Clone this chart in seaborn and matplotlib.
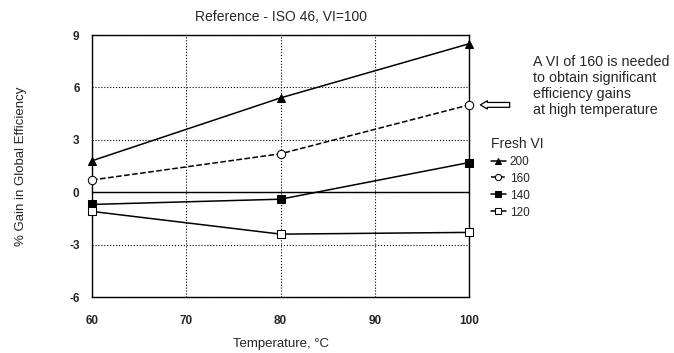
import pandas as pd
import matplotlib
matplotlib.use('Agg')
import matplotlib.pyplot as plt
import seaborn as sns
from matplotlib.ticker import MultipleLocator

# data
temps = [60, 80, 100]
vi_labels = ['200', '160', '140', '120']
gain_200 = [1.8, 5.4, 8.5]
gain_160 = [0.7, 2.2, 5.0]
gain_140 = [-0.7, -0.4, 1.7]
gain_120 = [-1.1, -2.4, -2.3]

rows = []
for vi, vals in zip(vi_labels, [gain_200, gain_160, gain_140, gain_120]):
    for t, g in zip(temps, vals):
        rows.append({'Temperature': t, 'Gain': g, 'Fresh VI': vi})
df = pd.DataFrame(rows)

sns.set_style('white')
plt.rcParams['font.family'] = ['Liberation Sans', 'DejaVu Sans']
plt.rcParams['axes.unicode_minus'] = False

fig = plt.figure(figsize=(6.74, 3.53), dpi=100)
ax = fig.add_axes([0.1365, 0.1586, 0.5595, 0.7422])

styles = {
    '200': dict(marker='^', mfc='black', ls='-'),
    '160': dict(marker='o', mfc='white', ls='--'),
    '140': dict(marker='s', mfc='black', ls='-'),
    '120': dict(marker='s', mfc='white', ls='-'),
}
for vi in vi_labels:
    st = styles[vi]
    sns.lineplot(data=df[df['Fresh VI'] == vi], x='Temperature', y='Gain',
                 ax=ax, color='black', lw=1.1, marker=st['marker'],
                 markerfacecolor=st['mfc'], markeredgecolor='black',
                 markersize=6, linestyle=st['ls'], label=vi,
                 clip_on=False, zorder=3)

ax.set_xlim(60, 100)
ax.set_ylim(-6, 9)
ax.xaxis.set_major_locator(MultipleLocator(10))
ax.xaxis.set_minor_locator(MultipleLocator(5))
ax.yaxis.set_major_locator(MultipleLocator(3))
ax.yaxis.set_minor_locator(MultipleLocator(1.5))
ax.tick_params(which='both', direction='in', color='black', width=1)
ax.tick_params(which='major', length=5, labelsize=8.5)
ax.tick_params(axis='y', which='major', pad=9)
ax.tick_params(axis='x', which='major', pad=13)
ax.tick_params(which='minor', length=3)
for lab in ax.get_xticklabels() + ax.get_yticklabels():
    lab.set_fontweight('bold')

ax.grid(True, which='major', color='black', ls=':', lw=0.8)
ax.axhline(0, color='black', lw=1.0, zorder=2)
for sp in ax.spines.values():
    sp.set_color('black')
    sp.set_linewidth(1.0)

ax.set_xlabel('Temperature, °C', fontsize=9.5, labelpad=8)
ax.set_ylabel('% Gain in Global Efficiency', fontsize=9.5, labelpad=30)
ax.set_title('Reference - ISO 46, VI=100', fontsize=10, pad=10)

leg = ax.legend(title='Fresh VI', loc='upper left', bbox_to_anchor=(1.045, 0.63),
                frameon=False, fontsize=8.5, title_fontsize=10, handlelength=1.3,
                handletextpad=0.3, labelspacing=0.42, borderaxespad=0,
                markerscale=0.75)
leg._legend_box.align = 'left'

fig.text(0.791, 0.845, 'A VI of 160 is needed\nto obtain significant\nefficiency gains\nat high temperature',
         fontsize=10.3, va='top', ha='left', linespacing=1.2)
ax.annotate('', xy=(100.9, 5.0), xytext=(104.6, 5.0), xycoords='data',
            annotation_clip=False,
            arrowprops=dict(arrowstyle='simple,head_length=0.5,head_width=0.6,tail_width=0.35',
                            fc='white', ec='black', lw=0.9))

fig.savefig('out.png', dpi=100)
